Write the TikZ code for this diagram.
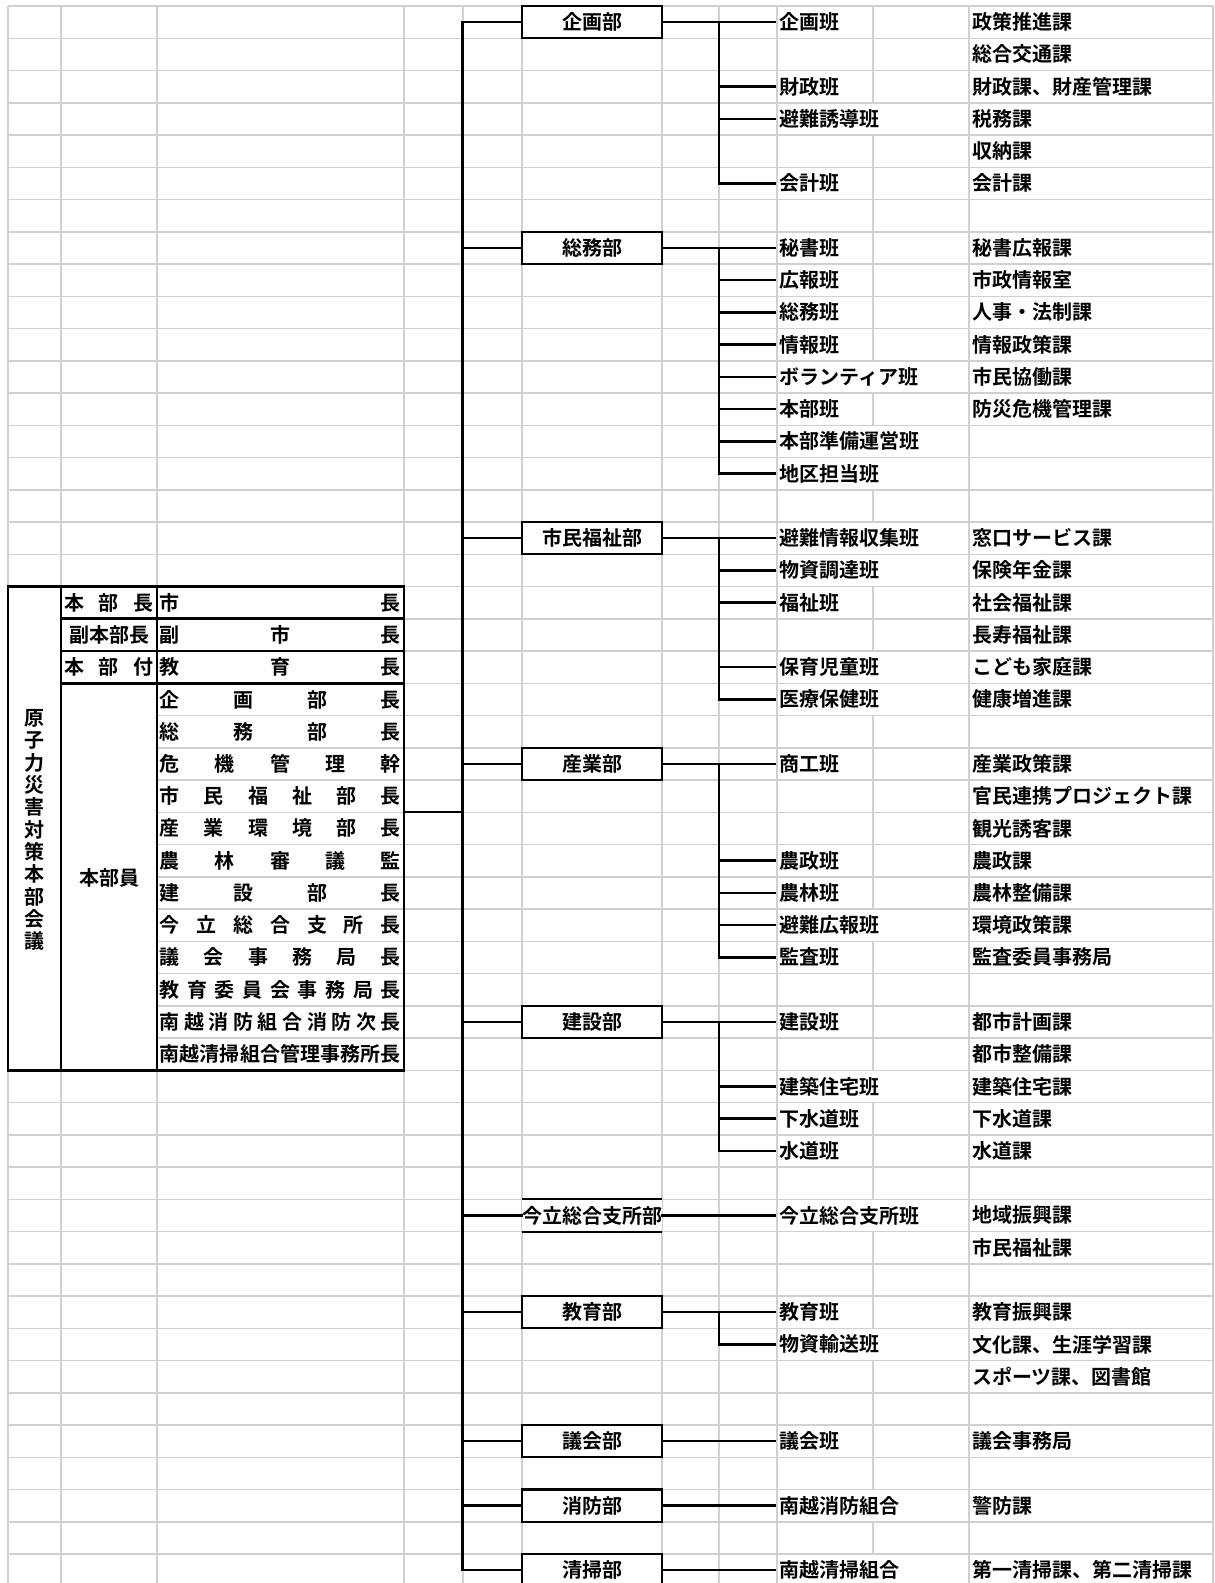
\documentclass[tikz,border=0pt]{standalone}
\usepackage{fontspec}
\setmainfont{Noto Sans CJK JP}[BoldFont={Noto Sans CJK JP Bold}]
\definecolor{cGrid}{HTML}{D0D0D0}
\definecolor{cLine}{HTML}{000000}
% spread the characters of a word over a box (distributed alignment)
\makeatletter
\def\spr@#1{\ifx#1\relax\else\hfill#1\expandafter\spr@\fi}
\def\spr@@#1{#1\spr@}
\newcommand{\spr}[1]{\edef\spr@tmp{#1}\expandafter\spr@@\spr@tmp\relax}
\makeatother
\tikzset{
  gridLine/.style={draw=cGrid, line width=1.5pt},
  tblLine/.style={draw=cLine, line width=2.6pt},
  flow/.style={draw=cLine, line width=2.4pt, line cap=rect},
  deptBox/.style={draw=cLine, fill=white, line width=2.1pt,
                  minimum width=140pt, minimum height=32.25pt, inner sep=0pt},
  deptOpen/.style={fill=white, minimum width=140pt, minimum height=32.25pt,
                   inner sep=0pt},
  hanLbl/.style={anchor=west, inner xsep=4.5pt, inner ysep=0pt},
  kaLbl/.style={anchor=west, inner xsep=3pt, inner ysep=0pt},
  tblTxt/.style={anchor=west, inner sep=0pt},
}

\begin{document}
\begin{tikzpicture}[x=1pt, y=-32.25pt, font=\bfseries\fontsize{20pt}{22.3pt}\selectfont]

\fill[white] (0,-0.686) rectangle (1214,48.399);
\useasboundingbox (0,-0.686) rectangle (1214,48.399);

% ========== SHEET GRID ==========
\foreach \k in {0,...,48}
  \draw[gridLine] (8,\k-0.5) -- (1213,\k-0.5);
\foreach \x in {8,61,157,404,463,522,662,719,777,969,1213}
  \draw[gridLine] (\x,-0.5) -- (\x,48.399);
% column hidden where a team name runs over it
\foreach \a/\b in {-0.5/2.5, 3.5/10.5, 11.5/12.5, 14.5/15.5, 17.5/19.5,
                   21.5/27.5, 28.5/32.5, 33.5/36.5, 37.5/40.5, 41.5/45.5,
                   46.5/47.5}
  \draw[gridLine] (873,\a) -- (873,\b);

% ========== MEETING TABLE ==========
\fill[white] (8,17.5) rectangle (61,32.5);
\fill[white] (61,20.5) rectangle (157,32.5);
\draw[tblLine] (8,17.5) rectangle (404,32.5);
\draw[tblLine] (61,17.5) -- (61,32.5);
\draw[tblLine] (157,17.5) -- (157,32.5);
\foreach \k in {18.5,19.5,20.5}
  \draw[tblLine] (61,\k) -- (404,\k);

\node[align=center, inner sep=0pt] (kaigi) at (34.5,25.05)
  {原\\子\\力\\災\\害\\対\\策\\本\\部\\会\\議};
\node[tblTxt] (tb18) at (64,18) {\makebox[89pt][s]{\spr{本部長}}};
\node (tb19) at (109,19) {副本部長};
\node[tblTxt] (tb20) at (64,20) {\makebox[89pt][s]{\spr{本部付}}};
\node (tbmem) at (109,26.55) {本部員};

\foreach \r/\t in {18/市長, 19/副市長, 20/教育長, 21/企画部長, 22/総務部長,
                   23/危機管理幹, 24/市民福祉部長, 25/産業環境部長,
                   26/農林審議監, 27/建設部長, 28/今立総合支所長,
                   29/議会事務局長, 30/教育委員会事務局長,
                   31/南越消防組合消防次長, 32/南越清掃組合管理事務所長}
  \node[tblTxt] (tc\r) at (159.5,\r) {\makebox[241pt][s]{\spr{\t}}};

\coordinate (tblOut) at (404,24.5);

% ========== DEPARTMENTS ==========
\foreach \r/\t in {0/企画部, 7/総務部, 16/市民福祉部, 23/産業部, 31/建設部,
                   40/教育部, 44/議会部, 46/消防部, 48/清掃部}
  \node[deptBox] (bu\r) at (592,\r) {\t};
\node[deptOpen] (bu37) at (592,37) {今立総合支所部};
\draw[tblLine, line width=2.1pt] (bu37.north west) -- (bu37.north east);
\draw[tblLine, line width=2.1pt] (bu37.south west) -- (bu37.south east);

% ========== TEAMS ==========
\foreach \r/\t in {0/企画班, 2/財政班, 3/避難誘導班, 5/会計班,
                   7/秘書班, 8/広報班, 9/総務班, 10/情報班, 11/ボランティア班,
                   12/本部班, 13/本部準備運営班, 14/地区担当班,
                   16/避難情報収集班, 17/物資調達班, 18/福祉班, 20/保育児童班,
                   21/医療保健班, 23/商工班, 26/農政班, 27/農林班, 28/避難広報班,
                   29/監査班, 31/建設班, 33/建築住宅班, 34/下水道班, 35/水道班,
                   37/今立総合支所班, 40/教育班, 41/物資輸送班, 44/議会班,
                   46/南越消防組合, 48/南越清掃組合}
  \node[hanLbl] (han\r) at (775,\r) {\t};

% ========== SECTIONS ==========
\foreach \r/\t in {0/政策推進課, 1/総合交通課, 2/財政課、財産管理課, 3/税務課,
                   4/収納課, 5/会計課, 7/秘書広報課, 8/市政情報室, 9/人事・法制課,
                   10/情報政策課, 11/市民協働課, 12/防災危機管理課,
                   16/窓口サービス課, 17/保険年金課, 18/社会福祉課, 19/長寿福祉課,
                   20/こども家庭課, 21/健康増進課, 23/産業政策課,
                   24/官民連携プロジェクト課, 25/観光誘客課, 26/農政課,
                   27/農林整備課, 28/環境政策課, 29/監査委員事務局,
                   31/都市計画課, 32/都市整備課, 33/建築住宅課, 34/下水道課,
                   35/水道課, 37/地域振興課, 38/市民福祉課, 40/教育振興課,
                   41/文化課、生涯学習課, 42/スポーツ課、図書館, 44/議会事務局,
                   46/警防課, 48/第一清掃課、第二清掃課}
  \node[kaLbl] (ka\r) at (969,\r) {\t};

% ========== CONNECTORS ==========
\coordinate (tr) at (462.5,0);
\coordinate (sv) at (719,0);

\draw[flow] (bu0.west -| tr) -- (bu48.west -| tr);
\draw[flow] (tblOut) -- (tblOut -| tr);
\foreach \r in {0,7,16,23,31,37,40,44,46,48} {
  \draw[flow] (bu\r.west -| tr) -- (bu\r.west);
  \draw[flow] (bu\r.east) -- (han\r.west);
}
\foreach \r/\last in {0/5, 7/14, 16/21, 23/29, 31/35, 40/41}
  \draw[flow] (bu\r.east -| sv) -- (han\last.west -| sv);
\foreach \r in {2,3,5,8,9,10,11,12,13,14,17,18,20,21,26,27,28,29,33,34,35,41}
  \draw[flow] (han\r.west -| sv) -- (han\r.west);

\end{tikzpicture}
\end{document}
